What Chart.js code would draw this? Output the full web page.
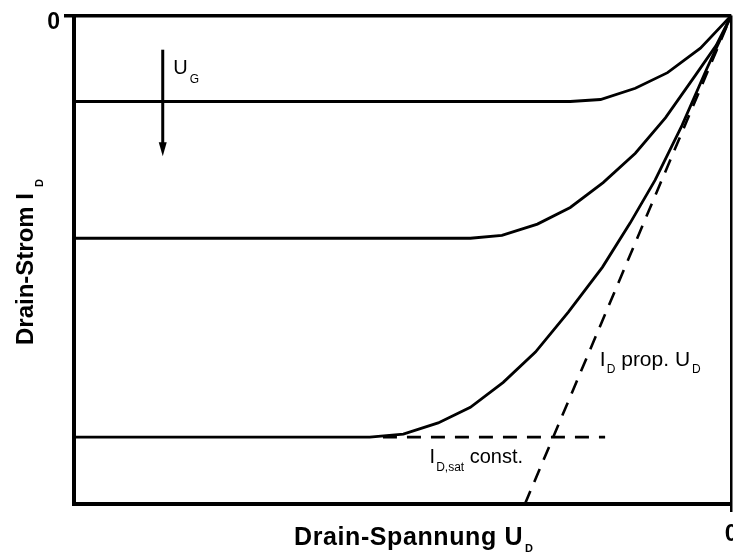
<!DOCTYPE html>
<html>
<head>
<meta charset="utf-8">
<script src="https://cdn.jsdelivr.net/npm/chart.js@4.4.1/dist/chart.umd.min.js"></script>
<style>
    html, body { margin: 0; padding: 0; overflow: hidden; background: #fff; }
    #wrap { position: relative; width: 746px; height: 559px; }
</style>
</head>
<body>
<div id="wrap"><canvas id="chart"></canvas></div>
<script>
// Drain voltage U_D (x) and drain current I_D (y), p-channel style: origin at the top right
const udHigh = [-10, -2.45, -1.99, -1.46, -0.97, -0.47, 0];
const idHigh = [-1.76, -1.76, -1.72, -1.49, -1.17, -0.67, 0];

const udMid = [-10, -3.97, -3.49, -2.95, -2.45, -1.95, -1.46, -1.00, -0.55, -0.23, 0];
const idMid = [-4.56, -4.56, -4.50, -4.27, -3.93, -3.42, -2.82, -2.09, -1.23, -0.61, 0];

const udLow = [-10, -5.50, -4.99, -4.46, -3.97, -3.47, -2.98, -2.48, -1.96, -1.54, -1.16, -0.75, -0.37, 0];
const idLow = [-8.63, -8.63, -8.57, -8.34, -8.02, -7.51, -6.89, -6.07, -5.15, -4.25, -3.37, -2.25, -1.08, 0];

// saturation current (horizontal dashed) and ohmic line (diagonal dashed)
const satUd = [-5.30, -1.92];
const satId = [-8.63, -8.63];
const ohmUd = [-3.14, 0];
const ohmId = [-10, 0];

// U_G arrow (x position, start, end)
const gateArrowUd = -8.65;
const gateArrowId = [-0.70, -2.88];

const axisTicks = [0];

const FONT = '"Liberation Sans", Arial, sans-serif';

const toPoints = (xs, ys) => xs.map((x, i) => ({ x: x, y: ys[i] }));

const solid = (xs, ys) => ({
    data: toPoints(xs, ys),
    showLine: true,
    borderColor: '#000',
    borderWidth: 2.8,
    pointRadius: 0,
    tension: 0,
    fill: false
});

const dashed = (xs, ys) => Object.assign(solid(xs, ys), { borderDash: [14, 10], borderWidth: 2.6 });

function drawRich(ctx, x, y, parts) {
    let cx = x;
    parts.forEach(p => {
        ctx.font = (p.bold ? 'bold ' : '') + p.size + 'px ' + FONT;
        ctx.fillText(p.text, cx, y + (p.dy || 0));
        cx += ctx.measureText(p.text).width + (p.gap || 0);
    });
}

// labels, arrow and axis titles
const annotations = {
    id: 'annotations',
    afterDraw(chart) {
        const ctx = chart.ctx;
        const xs = chart.scales.x;
        const ys = chart.scales.y;
        ctx.save();
        ctx.fillStyle = '#000';
        ctx.strokeStyle = '#000';
        ctx.textAlign = 'left';
        ctx.textBaseline = 'alphabetic';

        // gate voltage arrow
        const ax = xs.getPixelForValue(gateArrowUd);
        const ay0 = ys.getPixelForValue(gateArrowId[0]);
        const ay1 = ys.getPixelForValue(gateArrowId[1]);
        ctx.lineWidth = 3;
        ctx.beginPath();
        ctx.moveTo(ax, ay0);
        ctx.lineTo(ax, ay1 - 10);
        ctx.stroke();
        ctx.beginPath();
        ctx.moveTo(ax - 4, ay1 - 14);
        ctx.lineTo(ax + 4, ay1 - 14);
        ctx.lineTo(ax, ay1);
        ctx.closePath();
        ctx.fill();

        drawRich(ctx, xs.getPixelForValue(-8.49), ys.getPixelForValue(-1.19), [
            { text: 'U', size: 20, gap: 2 },
            { text: 'G', size: 12, dy: 9 }
        ]);

        drawRich(ctx, xs.getPixelForValue(-2.00), ys.getPixelForValue(-7.18), [
            { text: 'I', size: 21, gap: 1 },
            { text: 'D', size: 12, dy: 7 },
            { text: ' prop. U', size: 21, gap: 2 },
            { text: 'D', size: 12, dy: 7 }
        ]);

        drawRich(ctx, xs.getPixelForValue(-4.59), ys.getPixelForValue(-9.16), [
            { text: 'I', size: 20, gap: 1 },
            { text: 'D,sat', size: 12, dy: 8 },
            { text: ' const.', size: 20 }
        ]);

        // x axis title
        if ('letterSpacing' in ctx) ctx.letterSpacing = '0.6px';
        drawRich(ctx, 294, 545, [
            { text: 'Drain-Spannung U', size: 25, bold: true, gap: 2 },
            { text: 'D', size: 11, bold: true, dy: 7 }
        ]);
        if ('letterSpacing' in ctx) ctx.letterSpacing = '0px';

        // y axis title
        ctx.translate(33, 345);
        ctx.rotate(-Math.PI / 2);
        drawRich(ctx, 0, 0, [
            { text: 'Drain-Strom I', size: 24, bold: true, gap: 6 },
            { text: 'D', size: 11, bold: true, dy: 10 }
        ]);
        ctx.restore();
    }
};

new Chart(document.getElementById('chart'), {
    type: 'scatter',
    data: {
        datasets: [
            solid(udHigh, idHigh),
            solid(udMid, idMid),
            solid(udLow, idLow),
            dashed(satUd, satId),
            dashed(ohmUd, ohmId)
        ]
    },
    options: {
        responsive: true,
        maintainAspectRatio: false,
        animation: false,
        layout: { padding: { top: 15, left: 0, right: 0, bottom: 0 } },
        plugins: {
            legend: { display: false },
            tooltip: { enabled: false }
        },
        scales: {
            x: {
                type: 'linear',
                position: 'bottom',
                min: -10,
                max: 0,
                afterBuildTicks: (s) => { s.ticks = axisTicks.map(v => ({ value: v })); },
                afterFit: (s) => { s.height = 55; },
                border: { display: true, color: '#000', width: 4 },
                grid: {
                    color: '#000',
                    lineWidth: 2.5,
                    tickWidth: 2.5,
                    tickLength: 8,
                    drawOnChartArea: true
                },
                ticks: {
                    color: '#000',
                    padding: 8,
                    maxRotation: 0,
                    font: { family: FONT, size: 24, weight: 'bold' }
                }
            },
            y: {
                type: 'linear',
                position: 'left',
                min: -10,
                max: 0,
                afterBuildTicks: (s) => { s.ticks = axisTicks.map(v => ({ value: v })); },
                afterFit: (s) => { s.width = 74; },
                border: { display: true, color: '#000', width: 4 },
                grid: {
                    color: '#000',
                    lineWidth: 3.5,
                    tickWidth: 3.5,
                    tickLength: 10,
                    drawOnChartArea: true
                },
                ticks: {
                    color: '#000',
                    padding: 4,
                    labelOffset: 7,
                    font: { family: FONT, size: 23, weight: 'bold', lineHeight: 1 }
                }
            }
        }
    },
    plugins: [annotations]
});
</script>
</body>
</html>
